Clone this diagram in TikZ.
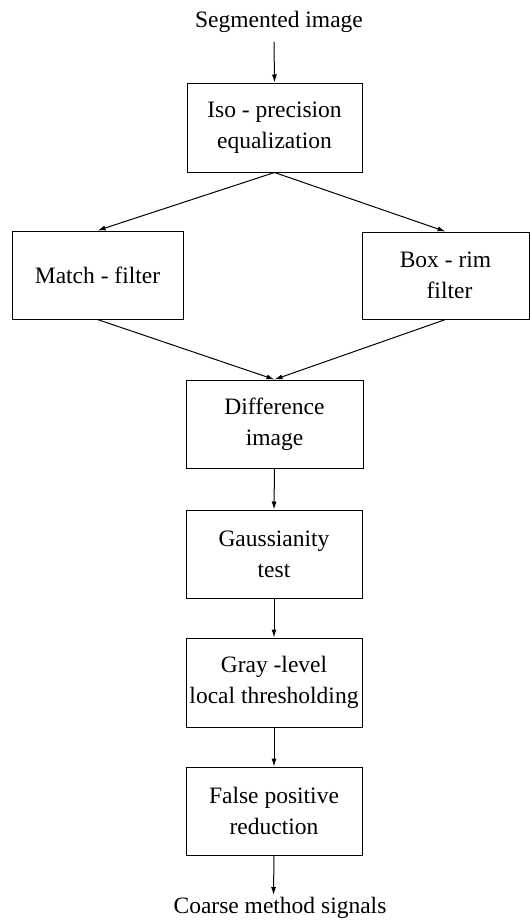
\documentclass[tikz,border=0pt]{standalone}
\usepackage{fontspec}
\setmainfont{Liberation Serif}
\usetikzlibrary{arrows.meta}
\begin{document}
\begin{tikzpicture}[x=1pt,y=-1pt,
  box/.style={draw, line width=1pt, inner sep=0pt, align=center,
    font=\fontsize{23.5}{31}\selectfont},
  lbl/.style={font=\fontsize{23.5}{31}\selectfont, inner sep=0pt},
  arr/.style={line width=1pt, -{Latex[length=8pt,width=5pt]}}]
\useasboundingbox (0,0) rectangle (530,922);
\node[lbl, anchor=base] (top) at (279,27) {Segmented image};
\coordinate (in) at (274,42);
\node[box, minimum width=175pt, minimum height=89pt] (iso) at (274.5,127.5) {Iso - precision\\equalization};
\node[box, minimum width=171pt, minimum height=88pt] (ml) at (97.5,275) {Match - filter};
\node[box, minimum width=167pt, minimum height=87pt] (mr) at (445.5,275.5) {Box - rim\\\hspace*{8pt}filter};
\node[box, minimum width=177pt, minimum height=88pt] (diff) at (274.5,424) {Difference\\image};
\node[box, minimum width=176pt, minimum height=88pt] (gauss) at (274,554) {Gaussianity\\test};
\node[box, minimum width=176pt, minimum height=89pt] (gray) at (274,682.5) {Gray -level\\local thresholding};
\node[box, minimum width=176pt, minimum height=88pt] (fp) at (274,811) {False positive\\reduction};
\coordinate (out) at (273.5,895);
\node[lbl, anchor=base] (bot) at (280,913) {Coarse method signals};
\draw[arr] (in) -- (iso.north);
\draw[arr] (iso.south) -- (ml.north);
\draw[arr] (iso.south) -- (mr.north);
\draw[arr] (ml.south) -- (diff.north);
\draw[arr] (mr.south) -- (diff.north);
\draw[arr] (diff.south) -- (gauss.north);
\draw[arr] (gauss.south) -- (gray.north);
\draw[arr] (gray.south) -- (fp.north);
\draw[arr] (fp.south) -- (out);
\end{tikzpicture}
\end{document}
